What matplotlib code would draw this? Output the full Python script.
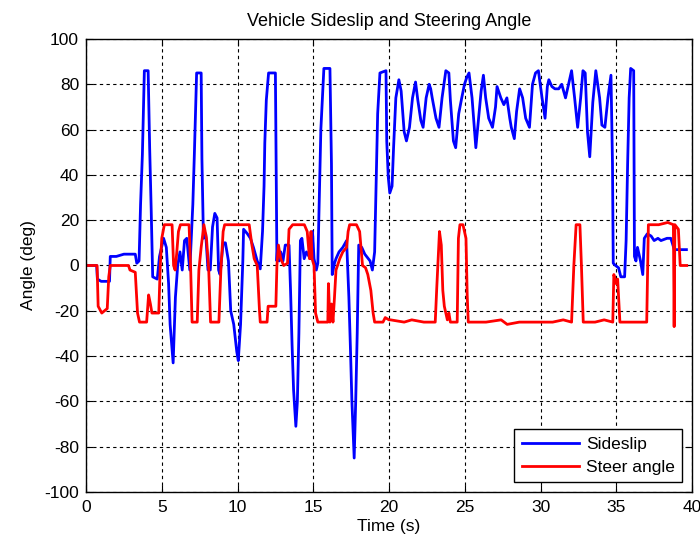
import matplotlib
matplotlib.use("Agg")
import matplotlib.pyplot as plt

plt.rcParams['font.family'] = ['Liberation Sans', 'DejaVu Sans']
plt.rcParams['axes.unicode_minus'] = False

# sideslip trace (time s, angle deg)
slip_t = [0, 0.7, 0.75, 1.0, 1.55, 1.6, 2.0, 2.5, 3.0, 3.25, 3.35, 3.5, 3.6, 3.72,
          3.85, 4.1, 4.2, 4.3, 4.4, 4.7, 4.85, 5.12, 5.3, 5.45, 5.55, 5.75, 5.9,
          6.05, 6.2, 6.35, 6.5, 6.65, 6.85, 7.05, 7.15, 7.3, 7.6, 7.65, 7.75, 7.9,
          8.05, 8.2, 8.35, 8.5, 8.65, 8.75, 8.85, 9.05, 9.2, 9.4, 9.55, 9.75, 9.95,
          10.05, 10.2, 10.35, 10.4, 10.65, 10.85, 11.05, 11.3, 11.5, 11.65, 11.75,
          11.8, 11.9, 12.05, 12.5, 12.55, 12.6, 12.65, 12.75, 12.85, 13.0, 13.15,
          13.4, 13.5, 13.6, 13.7, 13.85, 13.95, 14.05, 14.15, 14.25, 14.4, 14.55,
          14.8, 14.95, 15.05, 15.2, 15.3, 15.4, 15.5, 15.7, 16.1, 16.2, 16.25, 16.4,
          16.5, 16.7, 16.95, 17.2, 17.35, 17.45, 17.55, 17.7, 17.8, 17.9, 18.0,
          18.2, 18.4, 18.75, 18.9, 19.05, 19.15, 19.25, 19.4, 19.8, 19.85,
          19.95, 20.05, 20.2, 20.3, 20.45, 20.65, 20.8, 20.9, 21.0, 21.15, 21.35,
          21.55, 21.75, 21.9, 22.1, 22.25, 22.45, 22.65, 22.75, 22.85, 23.1, 23.3,
          23.5, 23.75, 23.95, 24.05, 24.25, 24.4, 24.6, 24.8, 24.98, 25.13, 25.28,
          25.48, 25.73, 25.83, 26.08, 26.23, 26.38, 26.58, 26.83, 27.03, 27.13,
          27.38, 27.58, 27.78, 27.97, 28.07, 28.27, 28.42, 28.62, 28.82, 29.02,
          29.27, 29.47, 29.67, 29.86, 30.1, 30.3, 30.45, 30.55, 30.75, 30.95, 31.2,
          31.4, 31.65, 31.85, 32.05, 32.25, 32.45, 32.65, 32.8, 32.95, 33.1, 33.25,
          33.45, 33.65, 33.9, 34.05, 34.25, 34.45, 34.65, 34.75, 34.8, 34.95, 35.15,
          35.3, 35.55, 35.65, 35.75, 35.85, 35.95, 36.15, 36.2, 36.3, 36.4, 36.6,
          36.75, 36.85, 37.05, 37.3, 37.5, 37.75, 37.95, 38.35, 38.6, 38.83, 39.63]
slip = [0, 0, -6, -7, -7, 4, 4, 5, 5, 5, 1, 2, 27, 49,
        86, 86, 52, 25, -5, -6, 4, 12, 8, -8, -26, -43, -14,
        0, 6, -2, 11, 12, -2, 27, 49, 85, 85, 47, 12, 14,
        -2, -2, 17, 23, 21, -2, -4, 10, 10, 2, -20, -26, -38,
        -42, -26, 2, 16, 14, 12, 8, 2, -1.5, 15, 35,
        54, 73, 85, 85, 45, 2, 9, 2, 6, 2, 9,
        9, -11, -35, -55, -71, -60, -30, 11, 12, 3, 6,
        3, 15, 3, -2, 1, 30, 60, 87, 87, 45, -4, 1,
        3, 6, 8, 11, -14, -36, -60, -85, -60, -30, 9,
        8, 5, 2, -2, 6, 37, 67, 85, 86, 55,
        39, 32, 35, 52, 74, 82, 77, 68, 59, 55, 61,
        74, 81, 73, 64, 61, 74, 80, 78, 74, 65, 61,
        74, 86, 85, 73, 55, 52, 67, 74, 80, 83, 85,
        74, 52, 59, 77, 84, 74, 65, 61, 70, 79,
        74, 71, 74, 65, 61, 56, 68, 78, 74, 65,
        61, 80, 85, 86, 74, 65, 79, 82, 79, 78, 78,
        80, 74, 80, 86, 74, 61, 74, 86, 85, 59, 48,
        72, 86, 74, 62, 61, 74, 84, 45, 1, 0, -1,
        -5, -5, 11, 45, 74, 87, 86, 4, 2, 8, 2,
        -4, 12, 14, 13, 11, 12, 11, 12, 12, 7, 7]

# steering angle trace
steer_t = [0, 0.73, 0.8, 1.04, 1.4, 1.5, 1.6, 2.8, 2.9, 3.25, 3.4, 3.53, 4.0, 4.13,
           4.25, 4.35, 4.8, 4.9, 5.0, 5.17, 5.68, 5.78, 5.88, 5.98, 6.1, 6.23, 6.8,
           6.9, 7.0, 7.34, 7.45, 7.6, 7.78, 7.95, 8.1, 8.22, 8.77, 8.9, 9.05, 9.15,
           10.77, 10.95, 11.1, 11.3, 11.45, 11.5, 11.95, 12.02, 12.53, 12.6, 12.7,
           12.85, 13.05, 13.3, 13.4, 13.64, 14.41, 14.6, 14.75, 14.85, 14.92, 15.05,
           15.15, 15.3, 15.96, 16.0, 16.1, 16.2, 16.3, 16.4, 16.5, 16.75, 16.95,
           17.2, 17.3, 17.4, 17.85, 18.06, 18.25, 18.45, 18.6, 18.8, 18.95, 19.05,
           19.6, 19.75, 20.0, 20.1, 21.0, 21.5, 22.3, 23.05, 23.15, 23.33, 23.45,
           23.55, 23.65, 23.85, 23.95, 24.05, 24.5, 24.58, 24.68, 24.88, 25.08,
           25.16, 25.23, 26.4, 27.4, 27.8, 28.6, 29.7, 30.8, 31.5, 32.05, 32.2,
           32.35, 32.6, 32.7, 32.82, 33.6, 34.2, 34.77, 34.84, 34.99, 35.09, 35.24,
           36.0, 37.01, 37.12, 37.8, 38.4, 38.77, 38.82, 38.87, 39.1, 39.22, 39.65]
steer = [0, 0, -18, -21, -19, -5, 0, 0, -2, -3, -21, -25, -25, -13,
         -17, -21, -21, 0, 12, 18, 18, 0, -2, 5, 15, 18, 18,
         0, -25, -25, -2, 8, 18, 12, -2, -25, -25, -2, 15, 18,
         18, 9, 3, 0, -20, -25, -25, -18, -18, 0, 9,
         3, 0, 1, 16, 18, 18, 15, 3, 15, 3, 0,
         -21, -25, -25, -8, -25, -17, -25, -14, -2, 3, 6,
         8, 15, 18, 18, 15, 0, -1, -4, -11, -21, -25,
         -25, -23, -24, -24, -25, -24, -25, -25, -10, 15, 9,
         -11, -18, -24, -21, -25, -25, 12, 18, 18, 12,
         -13, -25, -25, -24, -26, -25, -25, -25, -24, -25, 0,
         18, 18, 0, -25, -25, -24, -25, -4, -8, -6, -25,
         -25, -25, 18, 18, 19, 18, -27, 18, 16, 0, 0]

fig = plt.figure(figsize=(7, 5.4), dpi=100)
ax = fig.add_axes([0.1229, 0.0889, 0.8657, 0.8389])

ax.plot(slip_t, slip, color='#0000ff', lw=2, label='Sideslip')
ax.plot(steer_t, steer, color='#ff0000', lw=2, label='Steer angle')

ax.set_xlim(0, 40)
ax.set_ylim(-100, 100)
ax.set_xticks(range(0, 41, 5))
ax.set_yticks(range(-100, 101, 20))
# matlab style box and dashed grid
ax.grid(True, color='k', linestyle=(0, (3, 3)), lw=0.8)
ax.tick_params(direction='in', top=True, right=True, length=5, labelsize=12.5)
ax.tick_params(axis='x', pad=6)
ax.tick_params(axis='y', pad=5)
for s in ax.spines.values():
    s.set_linewidth(1)

ax.set_title('Vehicle Sideslip and Steering Angle', fontsize=13, pad=9)
ax.set_xlabel('Time (s)', fontsize=12.5, labelpad=3)
ax.set_ylabel('Angle (deg)', fontsize=12.5, labelpad=6)

leg = ax.legend(loc='lower right', fontsize=12.5, fancybox=False, framealpha=1,
                edgecolor='k', handlelength=3.3, handletextpad=0.4,
                borderaxespad=0.55, labelspacing=0.45, borderpad=0.45)
leg.get_frame().set_linewidth(1)

fig.savefig('out.png', dpi=100)
